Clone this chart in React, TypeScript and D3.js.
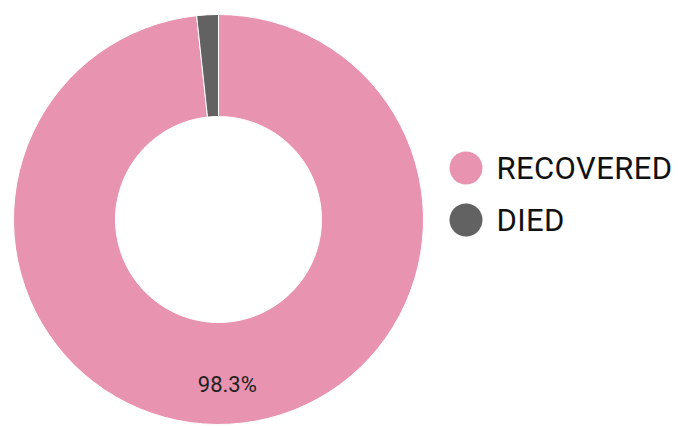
import React from 'react';
import * as d3 from 'd3';

const labels = ['RECOVERED', 'DIED'];
const values = [98.3, 1.7];
const colors = ['#e894b0', '#626262'];

const width = 678;
const height = 426;

const App: React.FC = () => {
  const cx = 218.5;
  const cy = 219.5;
  const outer = 205;
  const inner = 103;

  const pie = d3.pie<number>().sort(null).value((d) => d);
  const arcs = pie(values);
  const arc = d3.arc<d3.PieArcDatum<number>>().innerRadius(inner).outerRadius(outer);
  const labelArc = d3.arc<d3.PieArcDatum<number>>().innerRadius(165).outerRadius(165);

  const legendY = d3.scalePoint<string>().domain(labels).range([168, 220]);

  return (
    <svg width={width} height={height} style={{ position: 'absolute', left: 0, top: 0, fontFamily: 'Roboto' }}>
      <g transform={`translate(${cx},${cy})`}>
        {arcs.map((a, i) => (
          <path key={i} d={arc(a) || ''} fill={colors[i]} stroke="#fff" strokeWidth={1} />
        ))}
        {arcs.map((a, i) =>
          a.data > 5 ? (
            <text key={i} transform={`translate(${labelArc.centroid(a)})`} textAnchor="middle" dy="0.35em" fontSize={22} fill="#222">
              {d3.format('.1f')(a.data)}%
            </text>
          ) : null
        )}
      </g>
      {labels.map((l, i) => (
        <g key={l} transform={`translate(466,${legendY(l)})`}>
          <circle r={16.5} fill={colors[i]} />
          <text x={30.5} dy="0.34em" fontSize={31} letterSpacing={0.4} fill="#111">{l}</text>
        </g>
      ))}
    </svg>
  );
};

export default App;
